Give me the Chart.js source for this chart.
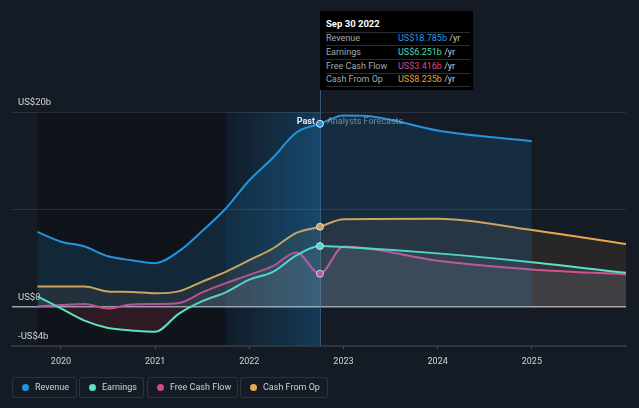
<!DOCTYPE html>
<html><head><meta charset="utf-8">
<script src="https://cdn.jsdelivr.net/npm/chart.js@4.4.1/dist/chart.umd.min.js"></script>
<style>
html,body{margin:0;padding:0;background:#151b25;}
#wrap{position:relative;width:639px;height:408px;overflow:hidden;font-family:Roboto, "Noto Sans", sans-serif;}
#c{position:absolute;left:0;top:0;}
#tip{position:absolute;left:320px;top:11px;width:153px;height:79px;background:#000;}
#tip .t{position:absolute;left:6px;font-size:9.5px;font-weight:bold;color:#fff;line-height:12px;}
#tip .l{position:absolute;left:6px;font-size:9px;color:#a3a8ae;line-height:12px;}
#tip .v{position:absolute;left:78px;font-size:9px;line-height:12px;color:#c9cdd2;}
#tip .s{position:absolute;left:6px;width:144px;height:1px;background:#2a2d31;}
#legend{position:absolute;left:0;top:377px;height:21px;}
.lg{position:absolute;top:0;height:19px;border:1px solid #2e343d;border-radius:3px;font-size:9px;color:#cfd3d8;line-height:19px;box-sizing:content-box;}
.lg i{position:absolute;left:9px;top:6px;width:7px;height:7px;border-radius:50%;}
.lg span{position:absolute;left:22px;top:0;white-space:nowrap;}
</style></head>
<body>
<div id="wrap">
<canvas id="c" width="639" height="408"></canvas>
<div id="tip"></div>
<div id="legend"></div>
</div>
<script>
// ---- data (US$ billions) ----
const pastDates = [2019.75,2020.0,2020.25,2020.5,2020.75,2021.0,2021.25,2021.5,2021.75,2022.0,2022.25,2022.5,2022.75];
const revenuePast  = [7.7,6.7,6.2,5.2,4.8,4.5,5.7,7.8,10.1,13.0,15.3,17.9,18.785];
const earningsPast = [1.1,-0.15,-1.4,-2.15,-2.4,-2.55,-0.7,0.6,1.5,2.8,3.6,5.3,6.251];
const fcfPast      = [0.05,0.2,0.3,-0.15,0.25,0.3,0.4,1.5,2.45,3.3,4.2,5.6,3.416];
const cfoPast      = [2.1,2.1,2.1,1.6,1.55,1.4,1.6,2.6,3.6,4.8,6.0,7.6,8.235];
const revenueForecastDates = [2023.0,2023.25,2023.5,2024.0,2025.0];
const revenueForecast      = [19.65,19.6,19.2,18.1,17.0];
const forecastDates    = [2023.0,2024.0,2025.0,2026.0];
const earningsForecast = [6.15,5.5,4.6,3.5];
const fcfForecast      = [6.2,4.75,3.85,3.35];
const cfoForecast      = [9.0,9.05,7.9,6.45];
const yearTicks = [2020,2021,2022,2023,2024,2025];
const yTicks = [-4,0,10,20];
const yLabels = {"-4":"-US$4b","0":"US$0","20":"US$20b"};
const seriesNames = ["Revenue","Earnings","Free Cash Flow","Cash From Op"];
const presentDate = 2022.75;
const presentLabel = "Sep 30 2022";
const bandStart = 2021.75;

const colors = {Revenue:"#2394df", Earnings:"#5ce1c6", "Free Cash Flow":"#d1488a", "Cash From Op":"#e9a94a"};
const tipColors = {Revenue:"#2b9ae2", Earnings:"#4fd6bc", "Free Cash Flow":"#d9488c", "Cash From Op":"#e5a03a"};

function pts(d1,v1,d2,v2){
  const out = d1.map((d,i)=>({x:d,y:v1[i]}));
  d2.forEach((d,i)=>out.push({x:d,y:v2[i]}));
  return out;
}
const series = {
  "Revenue": pts(pastDates,revenuePast,revenueForecastDates,revenueForecast),
  "Earnings": pts(pastDates,earningsPast,forecastDates,earningsForecast),
  "Free Cash Flow": pts(pastDates,fcfPast,forecastDates,fcfForecast),
  "Cash From Op": pts(pastDates,cfoPast,forecastDates,cfoForecast)
};
const lastVals = {Revenue:revenuePast[revenuePast.length-1], Earnings:earningsPast[earningsPast.length-1],
  "Free Cash Flow":fcfPast[fcfPast.length-1], "Cash From Op":cfoPast[cfoPast.length-1]};

function hexA(h,a){const n=parseInt(h.slice(1),16);return `rgba(${n>>16},${(n>>8)&255},${n&255},${a})`;}

const fills = {
  "Revenue": {target:'origin', above:hexA(colors.Revenue,0.15), below:hexA(colors.Revenue,0.15)},
  "Earnings": {target:'origin', above:'rgba(200,220,225,0.08)', below:'rgba(220,60,80,0.15)'},
  "Free Cash Flow": {target:'origin', above:'rgba(220,200,215,0.07)', below:'rgba(220,60,80,0.12)'},
  "Cash From Op": {target:'origin', above:hexA(colors["Cash From Op"],0.09), below:'rgba(220,60,80,0.12)'}
};

const datasets = seriesNames.map(n=>({
  label:n, data:series[n], borderColor:colors[n], backgroundColor:colors[n],
  borderWidth:2, fill:fills[n], cubicInterpolationMode:'monotone',
  pointRadius:(c)=> (c.raw && c.raw.x===presentDate) ? 3.5 : 0,
  pointBorderColor:'rgba(255,255,255,0.85)', pointBorderWidth:1,
  pointBackgroundColor:colors[n], pointHoverRadius:0
}));

const bgPlugin = {
  id:'bgOverlay',
  beforeDraw(chart){
    const {ctx, chartArea:a, scales:{x}} = chart;
    const xp = x.getPixelForValue(presentDate), xb = x.getPixelForValue(bandStart);
    const x0 = x.getPixelForValue(pastDates[0]);
    ctx.save();
    ctx.fillStyle='rgba(0,0,0,0.25)';
    ctx.fillRect(x0,a.top,xp-x0,a.bottom-a.top);
    const g = ctx.createLinearGradient(xb,0,xp,0);
    g.addColorStop(0,'rgba(35,148,223,0.07)');
    g.addColorStop(1,'rgba(35,148,223,0.3)');
    ctx.fillStyle=g; ctx.fillRect(xb,a.top,xp-xb,a.bottom-a.top);
    ctx.restore();
  },
  beforeDatasetsDraw(chart){
    const {ctx, chartArea:a, scales:{x}} = chart;
    const xp = Math.round(x.getPixelForValue(presentDate))+0.5;
    ctx.save();
    ctx.strokeStyle='rgba(70,110,150,0.7)'; ctx.lineWidth=1;
    ctx.beginPath(); ctx.moveTo(xp,90); ctx.lineTo(xp,a.bottom); ctx.stroke();
    ctx.restore();
  },
  afterDatasetsDraw(chart){
    const {ctx, scales:{x}} = chart;
    const xp = x.getPixelForValue(presentDate);
    ctx.save();
    ctx.textBaseline='middle';
    ctx.font='bold 9px Roboto';
    ctx.fillStyle='#e6e8ea'; ctx.textAlign='right';
    ctx.fillText('Past', xp-5, 122);
    ctx.font='9px Roboto';
    ctx.fillStyle='rgba(200,205,212,0.55)'; ctx.textAlign='left';
    ctx.fillText('Analysts Forecasts', xp+7, 122);
    ctx.restore();
  }
};

new Chart(document.getElementById('c'), {
  type:'line',
  data:{datasets},
  options:{
    responsive:false, animation:false, events:[],
    layout:{padding:{left:12,right:13,top:112,bottom:0}},
    plugins:{legend:{display:false}, tooltip:{enabled:false}},
    scales:{
      x:{type:'linear', min:2019.48, max:2026.0,
        afterBuildTicks:(s)=>{s.ticks=yearTicks.map(v=>({value:v}));},
        afterFit:(s)=>{s.height=62;},
        grid:{drawOnChartArea:false, drawTicks:true, tickLength:3, color:'rgba(255,255,255,0.25)'},
        border:{display:true, color:'#2f353e', width:2},
        ticks:{color:'#d2d5d9', font:{family:'Roboto', size:9}, padding:7, maxRotation:0, autoSkip:false,
          callback:(v)=>String(v)}
      },
      y:{type:'linear', min:-4, max:20,
        afterBuildTicks:(s)=>{s.ticks=yTicks.map(v=>({value:v}));},
        afterFit:(s)=>{s.width=0;},
        border:{display:false},
        grid:{drawTicks:false,
          color:(c)=> c.tick.value===0 ? 'rgba(205,210,215,0.75)' : (c.tick.value===-4 ? 'rgba(0,0,0,0)' : 'rgba(255,255,255,0.1)'),
          lineWidth:(c)=> c.tick.value===0 ? 1.5 : 1},
        ticks:{mirror:true, padding:6, labelOffset:-9, color:'#d2d5d9', font:{family:'Roboto', size:9.5},
          callback:(v)=> yLabels[String(v)] || ''}
      }
    }
  },
  plugins:[bgPlugin]
});

// tooltip box (static, at present date)
(function(){
  const tip = document.getElementById('tip');
  let h = `<div class="t" style="top:7px">${presentLabel}</div>`;
  const lines=[20.5,34,48,61.5,75];
  lines.forEach(y=>{h+=`<div class="s" style="top:${y}px"></div>`;});
  const rows=[21,35,48.5,62];
  seriesNames.forEach((n,i)=>{
    h+=`<div class="l" style="top:${rows[i]}px">${n}</div>`;
    h+=`<div class="v" style="top:${rows[i]}px"><span style="color:${tipColors[n]}">US$${lastVals[n].toFixed(3)}b</span> /yr</div>`;
  });
  tip.innerHTML=h;
  const lg=document.getElementById('legend');
  const boxes=[[12,63],[79,63],[147,89],[240,86]];
  let lh='';
  seriesNames.forEach((n,i)=>{
    lh+=`<div class="lg" style="left:${boxes[i][0]}px;width:${boxes[i][1]}px"><i style="background:${colors[n]}"></i><span>${n}</span></div>`;
  });
  lg.innerHTML=lh;
})();
</script>
</body></html>
